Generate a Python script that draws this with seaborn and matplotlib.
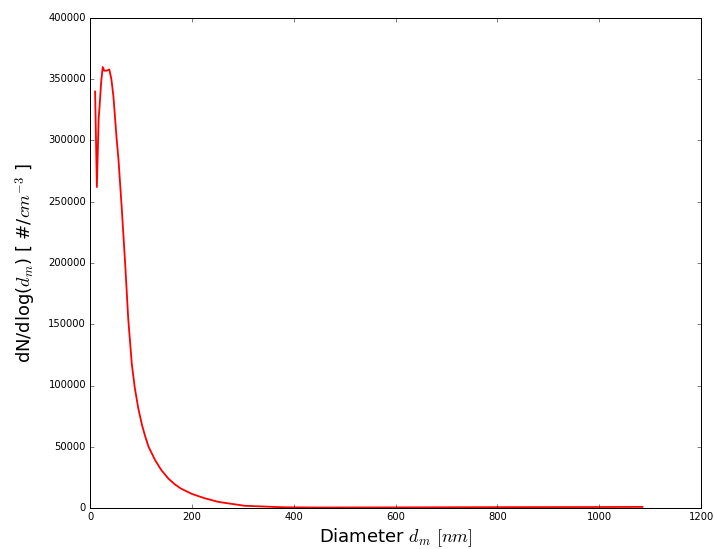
import numpy as np
import pandas as pd
import seaborn as sns
import matplotlib
matplotlib.use('Agg')
import matplotlib.pyplot as plt

# particle size distribution
diameter = [10, 13.5, 17, 18.5, 22, 25, 28, 33, 38, 42, 46, 52, 56, 62, 69, 75,
            82, 88, 95, 102, 108, 115, 128, 140, 154, 166, 178, 200, 225, 252,
            304, 380, 450, 600, 800, 1000, 1085]
dn_dlogd = [340000, 262000, 318000, 326000, 348000, 360000, 357000, 357000,
            358000, 350000, 336000, 303000, 284000, 247000, 200000, 155000,
            118000, 98000, 81000, 68000, 59000, 50000, 39000, 31000, 24000,
            19500, 16000, 11500, 8000, 5000, 1800, 600, 400, 500, 700, 800, 900]

x_ticks = [0, 200, 400, 600, 800, 1000, 1200]
y_ticks = [0, 50000, 100000, 150000, 200000, 250000, 300000, 350000, 400000]

plt.style.use('classic')
plt.rcParams['figure.facecolor'] = 'white'
plt.rcParams['savefig.facecolor'] = 'white'
plt.rcParams['mathtext.fontset'] = 'cm'

df = pd.DataFrame({'d': diameter, 'n': dn_dlogd})

fig = plt.figure(figsize=(714 / 72, 549 / 72), dpi=72)
ax = fig.add_axes([90 / 714, 1 - 508 / 549, 611 / 714, 490 / 549])
sns.lineplot(data=df, x='d', y='n', color='red', linewidth=1.8,
             estimator=None, sort=False, ax=ax)

ax.set_xlim(0, 1200)
ax.set_ylim(0, 400000)
ax.set_xticks(x_ticks)
ax.set_yticks(y_ticks)
ax.tick_params(labelsize=10)
ax.set_xlabel(r'Diameter $d_m$ $[nm]$', fontsize=18, labelpad=4)
ax.set_ylabel(r'dN/dlog($d_m$) [ #/$cm^{-3}$ ]', fontsize=18, labelpad=10)

fig.savefig('out.png', dpi=72)
